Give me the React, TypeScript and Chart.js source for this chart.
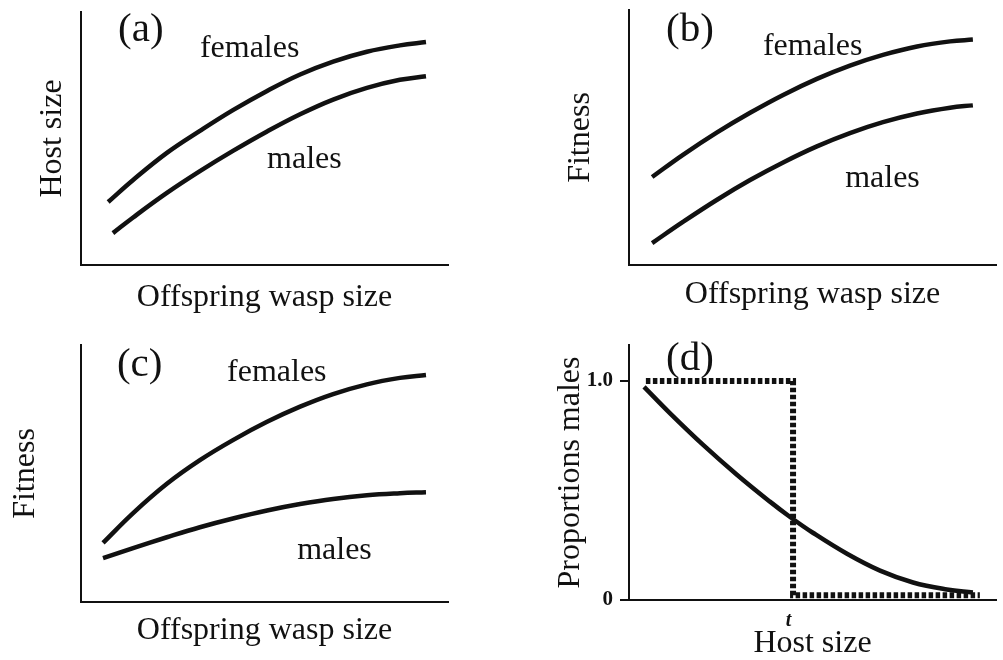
import React, { useEffect, useRef } from "react";
import { Chart, registerables } from "chart.js";

Chart.register(...registerables);

const SERIF = '"Liberation Serif", "Times New Roman", Times, serif';
const INK = "#111111";

// (a) host size needed to produce an offspring of a given size
const aFemaleX = [0.74, 1.42, 2.34, 3.24, 4.14, 5.07, 5.97, 6.87, 7.79, 8.69, 9.4];
const aFemaleY = [2.49, 3.36, 4.43, 5.3, 6.12, 6.88, 7.53, 8.04, 8.43, 8.68, 8.81];
const aMaleX = [0.87, 1.42, 2.34, 3.24, 4.14, 5.07, 5.97, 6.87, 7.79, 8.69, 9.4];
const aMaleY = [1.26, 1.88, 2.85, 3.71, 4.51, 5.28, 5.96, 6.54, 7.0, 7.32, 7.46];

// (b) fitness against offspring size, parallel curves
const bFemaleX = [0.63, 1.47, 2.4, 3.3, 4.2, 5.12, 6.02, 6.92, 7.85, 8.75, 9.37];
const bFemaleY = [3.45, 4.32, 5.2, 5.97, 6.67, 7.3, 7.82, 8.24, 8.57, 8.77, 8.84];
const bMaleX = [0.63, 1.47, 2.4, 3.3, 4.2, 5.12, 6.02, 6.92, 7.85, 8.75, 9.37];
const bMaleY = [0.86, 1.69, 2.56, 3.33, 4.02, 4.65, 5.17, 5.6, 5.94, 6.17, 6.26];

// (c) fitness against offspring size, females gain faster
const cFemaleX = [0.6, 1.42, 2.34, 3.24, 4.14, 5.07, 5.97, 6.87, 7.79, 8.69, 9.4];
const cFemaleY = [2.3, 3.46, 4.6, 5.52, 6.3, 7.01, 7.6, 8.09, 8.47, 8.72, 8.83];
const cMaleX = [0.6, 1.42, 2.34, 3.24, 4.14, 5.07, 5.97, 6.87, 7.79, 8.69, 9.4];
const cMaleY = [1.71, 2.1, 2.52, 2.91, 3.25, 3.56, 3.81, 4.01, 4.15, 4.23, 4.27];

// (d) proportion of males against host size
const dCurveX = [0.41, 1.12, 2.02, 2.94, 3.84, 4.39, 5.01, 5.94, 6.84, 7.74, 8.66, 9.37];
const dCurveY = [0.973, 0.852, 0.708, 0.572, 0.449, 0.379, 0.307, 0.211, 0.134, 0.08, 0.048, 0.034];
const dStepX = [0.46, 4.47, 4.47, 9.56];
const dStepY = [1.0, 1.0, 0.022, 0.022];
const dYTicks = [0, 1];
const dYTickLabels = ["0", "1.0"];
const dThreshold = 4.35;
const dThresholdLabel = "t";

type Note = { text: string; x: number; y: number; size: number };

const toPoints = (xs: number[], ys: number[]) => xs.map((x, i) => ({ x, y: ys[i] }));

const curve = (xs: number[], ys: number[]) => ({
  data: toPoints(xs, ys),
  borderColor: INK,
  borderWidth: 4.5,
  pointRadius: 0,
  fill: false,
  tension: 0.4,
});

// Free text placed in data coordinates (panel letter and curve names)
const notesPlugin = {
  id: "panelNotes",
  afterDatasetsDraw(chart: any, _args: any, opts: any) {
    const { ctx, scales } = chart;
    const notes: Note[] = opts.notes || [];
    ctx.save();
    ctx.fillStyle = INK;
    ctx.textAlign = "left";
    ctx.textBaseline = "alphabetic";
    for (const n of notes) {
      ctx.font = `${n.size}px ${SERIF}`;
      ctx.fillText(n.text, scales.x.getPixelForValue(n.x), scales.y.getPixelForValue(n.y));
    }
    ctx.restore();
  },
};

type PanelProps = {
  left: number;
  top: number;
  width: number;
  height: number;
  datasets: any[];
  notes: Note[];
  yTitle: string;
  xTitle: string;
  yMax: number;
  yAxisWidth: number;
  xAxisHeight: number;
  padTop: number;
  padRight: number;
  yTitlePad: number;
  xTitlePad: number;
  variant?: "fraction";
};

function Panel(p: PanelProps) {
  const ref = useRef<HTMLCanvasElement | null>(null);

  useEffect(() => {
    if (!ref.current) return;
    const fraction = p.variant === "fraction";
    const titleFont = { family: SERIF, size: 32, lineHeight: 1 };

    const chart = new Chart(ref.current, {
      type: "line",
      data: { datasets: p.datasets },
      plugins: [notesPlugin],
      options: {
        responsive: false,
        animation: false,
        events: [],
        layout: { padding: { top: p.padTop, right: p.padRight, left: 0, bottom: 0 } },
        plugins: {
          legend: { display: false },
          tooltip: { enabled: false },
          panelNotes: { notes: p.notes },
        } as any,
        scales: {
          x: {
            type: "linear",
            min: 0,
            max: 10,
            grid: { display: false, drawTicks: false },
            border: { display: true, color: INK, width: 2 },
            ticks: fraction
              ? {
                  display: true,
                  autoSkip: false,
                  padding: 9,
                  color: INK,
                  font: { family: SERIF, size: 20, weight: "bold", style: "italic" },
                  callback: () => dThresholdLabel,
                }
              : { display: false },
            afterBuildTicks: fraction
              ? (s: any) => {
                  s.ticks = [{ value: dThreshold }];
                }
              : undefined,
            afterFit: (s: any) => {
              s.height = p.xAxisHeight;
            },
            title: {
              display: true,
              text: p.xTitle,
              color: INK,
              font: titleFont,
              padding: { top: 0, bottom: p.xTitlePad },
            },
          },
          y: {
            type: "linear",
            min: 0,
            max: p.yMax,
            grid: fraction
              ? { display: true, drawOnChartArea: false, drawTicks: true, tickLength: 9, color: INK, lineWidth: 2 }
              : { display: false, drawTicks: false },
            border: { display: true, color: INK, width: 2 },
            ticks: fraction
              ? {
                  display: true,
                  autoSkip: false,
                  padding: 7,
                  color: INK,
                  font: { family: SERIF, size: 21, weight: "bold" },
                  callback: (v: any) => dYTickLabels[dYTicks.indexOf(Number(v))] ?? "",
                }
              : { display: false },
            afterBuildTicks: fraction
              ? (s: any) => {
                  s.ticks = dYTicks.map((value) => ({ value }));
                }
              : undefined,
            afterFit: (s: any) => {
              s.width = p.yAxisWidth;
            },
            title: {
              display: true,
              text: p.yTitle,
              color: INK,
              font: titleFont,
              padding: { top: p.yTitlePad, bottom: 0 },
            },
          },
        },
      } as any,
    });
    return () => chart.destroy();
  }, []);

  return (
    <canvas
      ref={ref}
      width={p.width}
      height={p.height}
      style={{ position: "absolute", left: p.left, top: p.top, width: p.width, height: p.height }}
    />
  );
}

export default function App() {
  return (
    <div
      style={{
        position: "absolute",
        left: 0,
        top: 0,
        width: 1003,
        height: 660,
        background: "#ffffff",
        overflow: "hidden",
      }}
    >
      <Panel
        left={0}
        top={0}
        width={500}
        height={320}
        datasets={[curve(aFemaleX, aFemaleY), curve(aMaleX, aMaleY)]}
        notes={[
          { text: "(a)", x: 1.01, y: 8.87, size: 41 },
          { text: "females", x: 3.24, y: 8.22, size: 32 },
          { text: "males", x: 5.07, y: 3.83, size: 32 },
        ]}
        yTitle="Host size"
        xTitle="Offspring wasp size"
        yMax={10}
        yAxisWidth={81}
        xAxisHeight={55}
        padTop={12}
        padRight={52}
        yTitlePad={36.2}
        xTitlePad={6.8}
      />
      <Panel
        left={500}
        top={0}
        width={503}
        height={320}
        datasets={[curve(bFemaleX, bFemaleY), curve(bMaleX, bMaleY)]}
        notes={[
          { text: "(b)", x: 1.01, y: 8.8, size: 41 },
          { text: "females", x: 3.65, y: 8.24, size: 32 },
          { text: "males", x: 5.89, y: 3.06, size: 32 },
        ]}
        yTitle="Fitness"
        xTitle="Offspring wasp size"
        yMax={10}
        yAxisWidth={129}
        xAxisHeight={55}
        padTop={10}
        padRight={7}
        yTitlePad={64.2}
        xTitlePad={9.8}
      />
      <Panel
        left={0}
        top={320}
        width={500}
        height={340}
        datasets={[curve(cFemaleX, cFemaleY), curve(cMaleX, cMaleY)]}
        notes={[
          { text: "(c)", x: 0.98, y: 8.81, size: 41 },
          { text: "females", x: 3.98, y: 8.6, size: 32 },
          { text: "males", x: 5.89, y: 1.67, size: 32 },
        ]}
        yTitle="Fitness"
        xTitle="Offspring wasp size"
        yMax={10}
        yAxisWidth={81}
        xAxisHeight={58}
        padTop={25}
        padRight={52}
        yTitlePad={9.2}
        xTitlePad={13.1}
      />
      <Panel
        left={500}
        top={320}
        width={503}
        height={340}
        variant="fraction"
        datasets={[
          {
            data: toPoints(dStepX, dStepY),
            borderColor: INK,
            borderWidth: 6,
            borderDash: [4.5, 2.5],
            borderCapStyle: "butt",
            borderJoinStyle: "miter",
            pointRadius: 0,
            tension: 0,
            fill: false,
          },
          curve(dCurveX, dCurveY),
        ]}
        notes={[{ text: "(d)", x: 1.01, y: 1.05, size: 41 }]}
        yTitle="Proportions males"
        xTitle="Host size"
        yMax={1.164}
        yAxisWidth={129}
        xAxisHeight={60}
        padTop={25}
        padRight={7}
        yTitlePad={54.2}
        xTitlePad={0}
      />
    </div>
  );
}
